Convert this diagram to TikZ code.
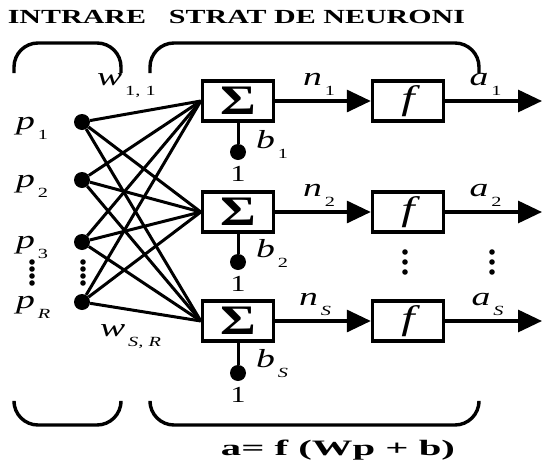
\documentclass[tikz,border=0pt]{standalone}
\usepackage{fontspec}
\setmainfont{Liberation Serif}
\usetikzlibrary{arrows.meta}
% italic symbol with a low, small subscript, stretched like the original
\newcommand{\symsub}[2]{\scalebox{1.45}[1]{\textit{#1}\kern2pt\raisebox{-10pt}{\fontsize{14}{14}\selectfont #2}}}
\newcommand{\wide}[2][1.5]{\scalebox{#1}[1]{#2}}

\begin{document}
\begin{tikzpicture}[x=1pt, y=-1pt,
    sumbox/.style={draw, line width=3.4pt, minimum width=71pt,
                   minimum height=40pt, inner sep=0pt,
                   font=\fontsize{42}{42}\selectfont\bfseries},
    actbox/.style={sumbox, font=\fontsize{34}{34}\selectfont\itshape},
    dot/.style={circle, fill, inner sep=0pt, minimum size=16pt},
    wire/.style={line width=3pt},
    signal/.style={line width=3.2pt, -{Triangle[length=24pt,width=22pt]}},
    brace/.style={line width=3.4pt, rounded corners=24pt},
    vlabel/.style={font=\fontsize{26}{26}\selectfont, inner sep=1pt},
    title/.style={font=\fontsize{20}{20}\selectfont\bfseries},
]
\useasboundingbox (0,0) rectangle (542,461);

% Titles
\node[title] (tin)  at (77,17)  {\wide{INTRARE}};
\node[title] (tlay) at (317,17) {\wide{STRAT DE NEURONI}};

% Braces (top and bottom)
\draw[brace] (14,73) -- (14,43) -- (121,43) -- (121,73);
\draw[brace] (150,73) -- (150,43) -- (479,43) -- (479,73);
\draw[brace] (14,404) -- (14,425) -- (121,425) -- (121,404);
\draw[brace] (150,404) -- (150,425) -- (479,425) -- (479,404);

% Inputs
\node[dot] (in1) at (82,122) {};
\node[dot] (in2) at (82,180) {};
\node[dot] (in3) at (82,242) {};
\node[dot] (inR) at (82,302) {};
\node[vlabel, anchor=west] (p1) at (15,128) {\symsub{p}{1}};
\node[vlabel, anchor=west] (p2) at (15,186) {\symsub{p}{2}};
\node[vlabel, anchor=west] (p3) at (15,247) {\symsub{p}{3}};
\node[vlabel, anchor=west] (pR) at (15,307) {\symsub{p}{\textit{R}}};

% Summing junctions and transfer functions
\node[sumbox] (sum1) at (238,101) {\wide[1.3]{Σ}};
\node[sumbox] (sum2) at (238,212) {\wide[1.3]{Σ}};
\node[sumbox] (sumS) at (238,321) {\wide[1.3]{Σ}};
\node[actbox] (act1) at (408,101) {\wide[1.4]{f}};
\node[actbox] (act2) at (408,212) {\wide[1.4]{f}};
\node[actbox] (actS) at (408,321) {\wide[1.4]{f}};

% Biases
\node[dot] (bias1) at (238,152) {};
\node[dot] (bias2) at (238,262) {};
\node[dot] (biasS) at (238,373) {};
\node[vlabel, font=\fontsize{23}{23}\selectfont] (one1) at (238,174) {\wide[1.3]{1}};
\node[vlabel, font=\fontsize{23}{23}\selectfont] (one2) at (238,284) {\wide[1.3]{1}};
\node[vlabel, font=\fontsize{23}{23}\selectfont] (oneS) at (238,395) {\wide[1.3]{1}};
\node[vlabel, anchor=west] (b1) at (255,144) {\symsub{b}{1}};
\node[vlabel, anchor=west] (b2) at (255,253) {\symsub{b}{2}};
\node[vlabel, anchor=west] (bS) at (255,364) {\symsub{b}{\textit{S}}};
\draw[wire] (sum1) -- (bias1);
\draw[wire] (sum2) -- (bias2);
\draw[wire] (sumS) -- (biasS);

% Weights: every input to every neuron
\draw[wire] (in1) -- (sum1.west);
\draw[wire] (in1) -- (sum2.west);
\draw[wire] (in1) -- (sumS.west);
\draw[wire] (in2) -- (sum1.west);
\draw[wire] (in2) -- (sum2.west);
\draw[wire] (in2) -- (sumS.west);
\draw[wire] (in3) -- (sum1.west);
\draw[wire] (in3) -- (sum2.west);
\draw[wire] (in3) -- (sumS.west);
\draw[wire] (inR) -- (sum1.west);
\draw[wire] (inR) -- (sum2.west);
\draw[wire] (inR) -- (sumS.west);
\node[vlabel, anchor=west] (w11) at (96,86)  {\symsub{w}{1, 1}};
\node[vlabel, anchor=west] (wSR) at (99,337) {\symsub{w}{\textit{S, R}}};

% Net inputs and outputs
\coordinate (out1) at (542,101);
\coordinate (out2) at (542,212);
\coordinate (outS) at (542,321);
\draw[signal] (sum1) -- node[vlabel, above=3pt, xshift=-4pt] {\symsub{n}{1}} (act1);
\draw[signal] (sum2) -- node[vlabel, above=3pt, xshift=-4pt] {\symsub{n}{2}} (act2);
\draw[signal] (sumS) -- node[vlabel, above=3pt, xshift=-8pt] {\symsub{n}{\textit{S}}} (actS);
\draw[signal] (act1) -- node[vlabel, above=3pt, xshift=-8pt] {\symsub{a}{1}} (out1);
\draw[signal] (act2) -- node[vlabel, above=3pt, xshift=-8pt] {\symsub{a}{2}} (out2);
\draw[signal] (actS) -- node[vlabel, above=3pt, xshift=-6pt] {\symsub{a}{\textit{S}}} (outS);

% Ellipsis dots
\foreach \y in {262,269,276,283} {
  \fill (32,\y) circle (2.8pt);
  \fill (83,\y) circle (2.8pt);
}
\foreach \y in {252,262,272} {
  \fill (405,\y) circle (2.8pt);
  \fill (492,\y) circle (2.8pt);
}

% Layer equation
\node[title, font=\fontsize{22}{22}\selectfont\bfseries] (eqn) at (338,450) {\wide[1.85]{a= f (Wp + b)}};

\end{tikzpicture}
\end{document}
